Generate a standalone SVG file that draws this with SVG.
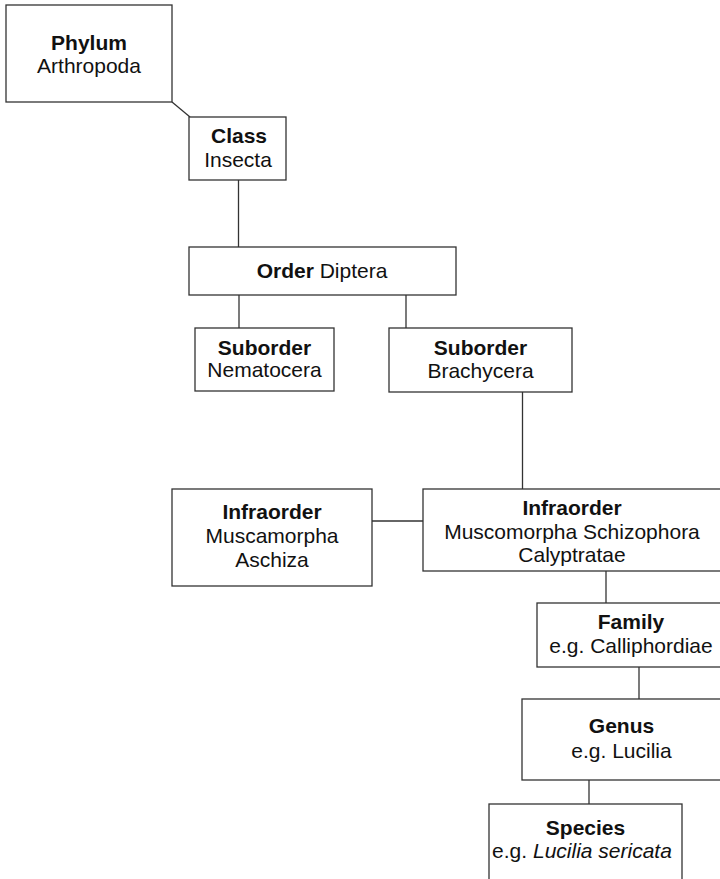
<svg xmlns="http://www.w3.org/2000/svg" width="720" height="879" viewBox="0 0 720 879">
<style>
.box{fill:#fff;stroke:#333;stroke-width:1.3}
.con line{stroke:#333;stroke-width:1.3}
text{font-family:"Liberation Sans",Arial,sans-serif;font-size:21px;fill:#111;text-anchor:middle}
.b{font-weight:bold}
.i{font-style:italic}
</style>
<rect width="720" height="879" fill="#fff"/>
<g id="connectors" class="con">
<line x1="172" y1="102" x2="190" y2="117"/>
<line x1="238.5" y1="180" x2="238.5" y2="247"/>
<line x1="239" y1="295" x2="239" y2="328"/>
<line x1="406" y1="295" x2="406" y2="328"/>
<line x1="522.5" y1="392" x2="522.5" y2="489"/>
<line x1="372" y1="521" x2="423" y2="521"/>
<line x1="606" y1="571" x2="606" y2="603"/>
<line x1="639" y1="667" x2="639" y2="699"/>
<line x1="589" y1="780" x2="589" y2="804"/>
</g>
<g id="phylum"><rect class="box" x="6" y="5" width="166" height="97"/><text x="89" y="50" class="b">Phylum</text><text x="89" y="73">Arthropoda</text></g>
<g id="class"><rect class="box" x="189" y="117" width="97" height="63"/><text x="239" y="143" class="b">Class</text><text x="238" y="166.5">Insecta</text></g>
<g id="order"><rect class="box" x="189" y="247" width="267" height="48"/><text x="322" y="278"><tspan class="b">Order</tspan> Diptera</text></g>
<g id="nematocera"><rect class="box" x="195" y="328" width="139" height="63"/><text x="264.5" y="355" class="b">Suborder</text><text x="264.5" y="377">Nematocera</text></g>
<g id="brachycera"><rect class="box" x="389" y="328" width="183" height="64"/><text x="480.5" y="355" class="b">Suborder</text><text x="480.5" y="378">Brachycera</text></g>
<g id="aschiza"><rect class="box" x="172" y="489" width="200" height="97"/><text x="272" y="519" class="b">Infraorder</text><text x="272" y="543">Muscamorpha</text><text x="272" y="567">Aschiza</text></g>
<g id="calyptratae"><rect class="box" x="423" y="489" width="298" height="82"/><text x="572" y="515" class="b">Infraorder</text><text x="572" y="539">Muscomorpha Schizophora</text><text x="572" y="562">Calyptratae</text></g>
<g id="family"><rect class="box" x="537" y="603" width="188" height="64"/><text x="631" y="629" class="b">Family</text><text x="631" y="653">e.g. Calliphordiae</text></g>
<g id="genus"><rect class="box" x="522" y="699" width="200" height="81"/><text x="621.5" y="733" class="b">Genus</text><text x="621.5" y="758">e.g. Lucilia</text></g>
<g id="species"><rect class="box" x="489" y="804" width="193" height="90"/><text x="585.5" y="835" class="b">Species</text><text x="582" y="858">e.g. <tspan class="i">Lucilia sericata</tspan></text></g>
</svg>
